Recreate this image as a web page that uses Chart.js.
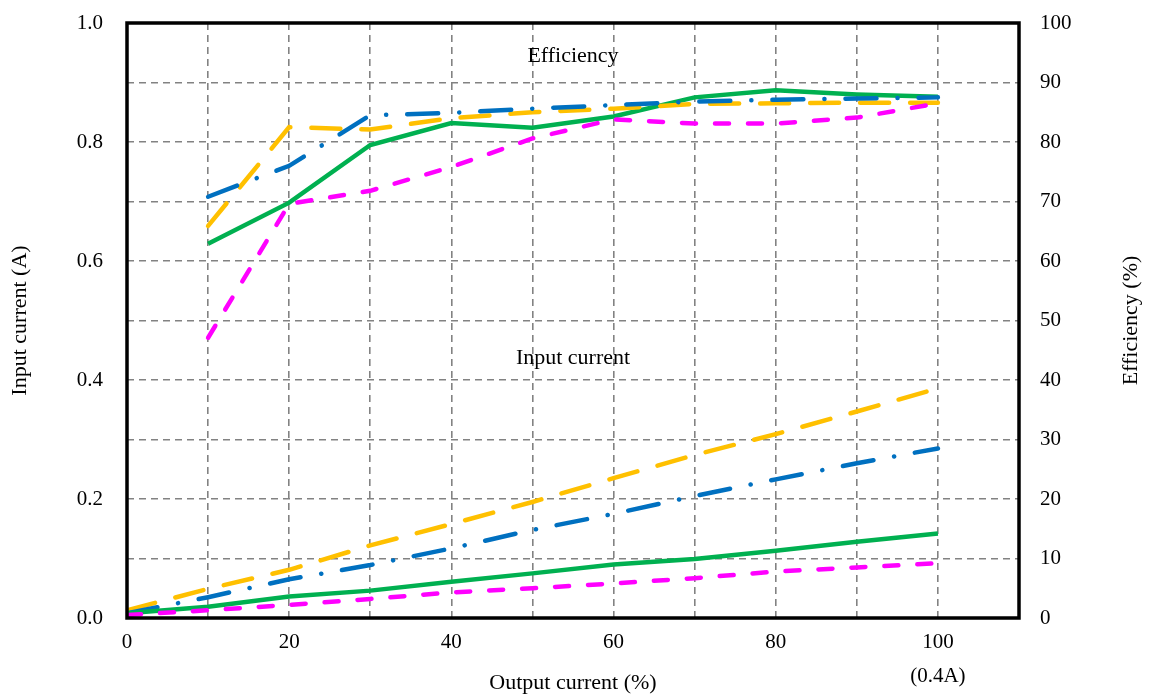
<!DOCTYPE html>
<html>
<head>
<meta charset="utf-8">
<script src="https://cdn.jsdelivr.net/npm/chart.js@4/dist/chart.umd.min.js"></script>
<style>
  html, body { margin: 0; padding: 0; background: #fff; }
  canvas { display: block; }
</style>
</head>
<body>
<canvas id="c" width="1149" height="697"></canvas>
<script>
// ---- data ----
const outputPct = [0, 10, 20, 30, 40, 50, 60, 70, 80, 90, 100];
const effPct = [10, 20, 30, 40, 50, 60, 70, 80, 90, 100];

const inputYellow  = [0.013, 0.049, 0.081, 0.122, 0.158, 0.195, 0.235, 0.274, 0.309, 0.347, 0.386];
const inputBlue    = [0.008, 0.035, 0.065, 0.089, 0.117, 0.148, 0.175, 0.205, 0.233, 0.260, 0.285];
const inputGreen   = [0.008, 0.019, 0.036, 0.046, 0.061, 0.075, 0.090, 0.099, 0.113, 0.128, 0.142];
const inputMagenta = [0.005, 0.013, 0.022, 0.032, 0.043, 0.050, 0.058, 0.067, 0.078, 0.085, 0.092];

const effYellow  = [65.9, 82.5, 82.1, 84.0, 85.0, 85.6, 86.4, 86.5, 86.6, 86.6];
const effBlue    = [70.8, 76.0, 84.5, 84.9, 85.6, 86.2, 86.8, 87.1, 87.3, 87.5];
const effGreen   = [62.9, 69.8, 79.5, 83.2, 82.4, 84.3, 87.5, 88.7, 88.0, 87.6];
const effMagenta = [47.1, 69.6, 71.8, 75.8, 80.6, 83.8, 83.1, 83.1, 84.1, 86.5];

const xTickLabels = [0, 20, 40, 60, 80, 100];
const leftTickLabels = [0.0, 0.2, 0.4, 0.6, 0.8, 1.0];
const fullScaleNote = '(0.4A)';
const annotations = [
  { text: 'Efficiency', x: 55, y: 94.5, axis: 'y1' },
  { text: 'Input current', x: 55, y: 0.437, axis: 'y' }
];

// ---- styles ----
const FONT = '"Liberation Serif", "Times New Roman", serif';
const COL = { yellow: '#FFC000', blue: '#0070C0', green: '#00B050', magenta: '#FF00FF' };
const DASH = { yellow: [29, 21], blue: [31, 21, 0.1, 21], green: [], magenta: [14, 19] };

function pts(xs, ys) { return xs.map((x, i) => ({ x: x, y: ys[i] })); }
function ds(data, key, axis) {
  return {
    data: data, yAxisID: axis, borderColor: COL[key], backgroundColor: COL[key],
    borderWidth: 4.5, borderDash: DASH[key], borderCapStyle: key === 'green' ? 'butt' : 'round',
    pointRadius: 0, tension: 0, fill: false
  };
}

const framePlugin = {
  id: 'frame',
  afterDatasetsDraw(chart) {
    const { ctx, chartArea: a, scales } = chart;
    ctx.save();
    ctx.strokeStyle = '#000';
    ctx.lineWidth = 3.5;
    ctx.strokeRect(a.left, a.top, a.right - a.left, a.bottom - a.top);
    ctx.fillStyle = '#000';
    ctx.textAlign = 'center';
    ctx.textBaseline = 'middle';
    ctx.font = '22px ' + FONT;
    annotations.forEach(an => {
      ctx.fillText(an.text, scales.x.getPixelForValue(an.x), scales[an.axis].getPixelForValue(an.y));
    });
    ctx.font = '21px ' + FONT;
    ctx.fillText(fullScaleNote, scales.x.getPixelForValue(100), 676);
    // right axis title, reading bottom-to-top
    ctx.font = '22px ' + FONT;
    ctx.translate(1131, (a.top + a.bottom) / 2);
    ctx.rotate(-Math.PI / 2);
    ctx.fillText('Efficiency (%)', 0, 0);
    ctx.restore();
  }
};

const gridCol = '#828282';
const noTick = 'rgba(0,0,0,0)';

new Chart(document.getElementById('c'), {
  type: 'line',
  data: {
    datasets: [
      ds(pts(outputPct, inputMagenta), 'magenta', 'y'),
      ds(pts(outputPct, inputGreen), 'green', 'y'),
      ds(pts(outputPct, inputBlue), 'blue', 'y'),
      ds(pts(outputPct, inputYellow), 'yellow', 'y'),
      ds(pts(effPct, effMagenta), 'magenta', 'y1'),
      ds(pts(effPct, effBlue), 'blue', 'y1'),
      ds(pts(effPct, effYellow), 'yellow', 'y1'),
      ds(pts(effPct, effGreen), 'green', 'y1')
    ]
  },
  options: {
    responsive: false,
    animation: false,
    devicePixelRatio: 1,
    layout: { padding: { top: 23, left: 0, right: 0, bottom: 0 } },
    plugins: { legend: { display: false }, tooltip: { enabled: false } },
    scales: {
      x: {
        type: 'linear', position: 'bottom', min: 0, max: 110,
        afterFit(s) { s.height = 79; },
        ticks: {
          stepSize: 10, autoSkip: false, maxRotation: 0, padding: 0,
          color: '#000', font: { family: FONT, size: 21 },
          callback: v => xTickLabels.includes(v) ? String(v) : ''
        },
        grid: { color: gridCol, lineWidth: 1.6, drawTicks: true, tickLength: 12, tickColor: noTick },
        border: { display: false, dash: [7, 5] },
        title: { display: true, text: 'Output current (%)', color: '#000',
                 font: { family: FONT, size: 22 }, padding: { top: 0, bottom: 1 } }
      },
      y: {
        type: 'linear', position: 'left', min: 0, max: 1,
        afterFit(s) { s.width = 127; },
        ticks: {
          stepSize: 0.1, autoSkip: false, padding: 0,
          color: '#000', font: { family: FONT, size: 21 },
          callback: v => leftTickLabels.some(t => Math.abs(t - v) < 1e-6) ? v.toFixed(1) : ''
        },
        grid: { color: gridCol, lineWidth: 1.6, drawTicks: true, tickLength: 24, tickColor: noTick },
        border: { display: false, dash: [7, 5] },
        title: { display: true, text: 'Input current (A)', color: '#000',
                 font: { family: FONT, size: 22 }, padding: { top: 7, bottom: 0 } }
      },
      y1: {
        type: 'linear', position: 'right', min: 0, max: 100,
        afterFit(s) { s.width = 130; },
        ticks: {
          stepSize: 10, autoSkip: false, padding: 0,
          color: '#000', font: { family: FONT, size: 21 }
        },
        grid: { drawOnChartArea: false, drawTicks: true, tickLength: 21, tickColor: noTick },
        border: { display: false }
      }
    }
  },
  plugins: [framePlugin]
});
</script>
</body>
</html>
